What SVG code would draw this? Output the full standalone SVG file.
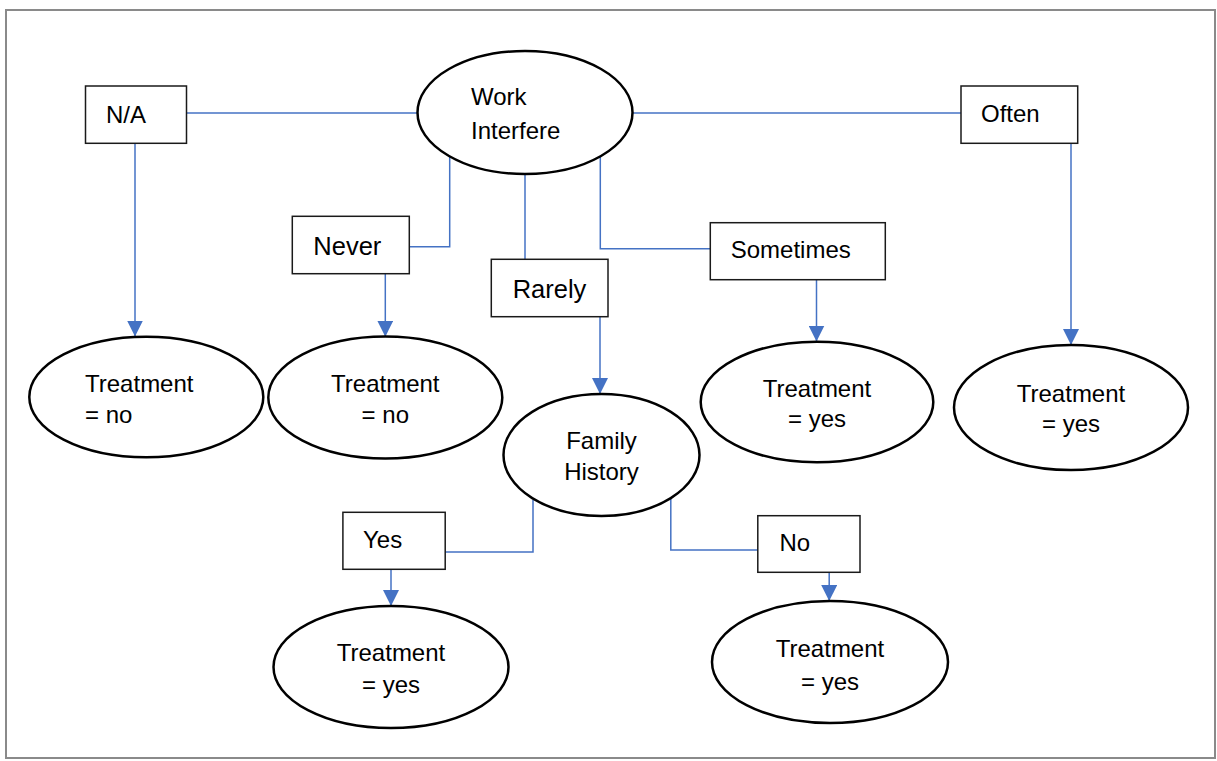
<svg xmlns="http://www.w3.org/2000/svg" width="1217" height="761" viewBox="0 0 1217 761">
<style>
.frame{fill:#fff;stroke:#8a8a8a;stroke-width:2}
.box{fill:#fff;stroke:#1a1a1a;stroke-width:1.5}
.ell{fill:#fff;stroke:#000;stroke-width:2.5}
.conn{fill:none;stroke:#4472C4;stroke-width:1.5}
.t{font-family:"Liberation Sans",Arial,sans-serif;font-size:24px;fill:#000}
.m{text-anchor:middle}
.big{font-size:25.5px}
</style>
<defs>
<marker id="arr" viewBox="0 0 16 16" markerWidth="16" markerHeight="16" markerUnits="userSpaceOnUse" refX="16" refY="8" orient="auto">
<path d="M0,0 L16,8 L0,16 z" fill="#4472C4"/>
</marker>
</defs>
<rect class="frame" x="6" y="10" width="1209" height="748"/>
<g id="connectors">
<path class="conn" d="M186.5,113 H417.5"/>
<path class="conn" d="M632.5,113 H961"/>
<path class="conn" d="M449.7,156 V246.7 H409.3"/>
<path class="conn" d="M525,174 V259.3"/>
<path class="conn" d="M600.3,156 V248.7 H710.3"/>
<path class="conn" d="M533,500 V552 H445.2"/>
<path class="conn" d="M670.8,498.3 V550 H757.8"/>
<path class="conn" d="M135,143.3 V336.5" marker-end="url(#arr)"/>
<path class="conn" d="M385.3,273.7 V336.7" marker-end="url(#arr)"/>
<path class="conn" d="M816.5,279.7 V341.5" marker-end="url(#arr)"/>
<path class="conn" d="M1071,143.3 V345" marker-end="url(#arr)"/>
<path class="conn" d="M600,316.7 V394" marker-end="url(#arr)"/>
<path class="conn" d="M391,569.3 V606" marker-end="url(#arr)"/>
<path class="conn" d="M829.2,572.3 V601" marker-end="url(#arr)"/>
</g>
<g id="work-interfere">
<ellipse class="ell" cx="525" cy="112.5" rx="107.5" ry="61.5"/>
<text class="t" x="471" y="105">Work</text>
<text class="t" x="471" y="139">Interfere</text>
</g>
<g id="na">
<rect class="box" x="85.5" y="86" width="101" height="57.3"/>
<text class="t" x="106" y="122.7">N/A</text>
</g>
<g id="often">
<rect class="box" x="961" y="86" width="116.7" height="57.3"/>
<text class="t" x="981" y="122.3">Often</text>
</g>
<g id="never">
<rect class="box" x="292.3" y="216.3" width="117" height="57.4"/>
<text class="t big" x="313.3" y="255">Never</text>
</g>
<g id="rarely">
<rect class="box" x="491.3" y="259.3" width="116.7" height="57.4"/>
<text class="t big" x="512.7" y="298.3">Rarely</text>
</g>
<g id="sometimes">
<rect class="box" x="710.3" y="222.7" width="175" height="57"/>
<text class="t" x="730.7" y="258.3">Sometimes</text>
</g>
<g id="treat-na">
<ellipse class="ell" cx="146.3" cy="397" rx="117" ry="60.3"/>
<text class="t" x="85" y="391.7">Treatment</text>
<text class="t" x="85" y="423.3">= no</text>
</g>
<g id="treat-never">
<ellipse class="ell" cx="385.3" cy="397.5" rx="117" ry="61"/>
<text class="t m" x="385.3" y="391.7">Treatment</text>
<text class="t m" x="385.3" y="423.3">= no</text>
</g>
<g id="treat-sometimes">
<ellipse class="ell" cx="817" cy="402" rx="116.3" ry="60.3"/>
<text class="t m" x="817" y="396.7">Treatment</text>
<text class="t m" x="817" y="426.7">= yes</text>
</g>
<g id="treat-often">
<ellipse class="ell" cx="1071" cy="407.5" rx="117" ry="62.5"/>
<text class="t m" x="1071" y="401.7">Treatment</text>
<text class="t m" x="1071" y="431.7">= yes</text>
</g>
<g id="family-history">
<ellipse class="ell" cx="601.5" cy="455" rx="98" ry="61"/>
<text class="t m" x="601.5" y="449">Family</text>
<text class="t m" x="601.5" y="480">History</text>
</g>
<g id="yes">
<rect class="box" x="342.9" y="512.3" width="102.3" height="57"/>
<text class="t" x="363" y="547.7">Yes</text>
</g>
<g id="no">
<rect class="box" x="757.8" y="515.7" width="102.2" height="56.6"/>
<text class="t" x="779.4" y="551">No</text>
</g>
<g id="treat-yes">
<ellipse class="ell" cx="391" cy="667" rx="117.5" ry="61"/>
<text class="t m" x="391" y="661">Treatment</text>
<text class="t m" x="391" y="693.3">= yes</text>
</g>
<g id="treat-no">
<ellipse class="ell" cx="830" cy="662" rx="118" ry="61"/>
<text class="t m" x="830" y="657.3">Treatment</text>
<text class="t m" x="830" y="690">= yes</text>
</g>
</svg>
